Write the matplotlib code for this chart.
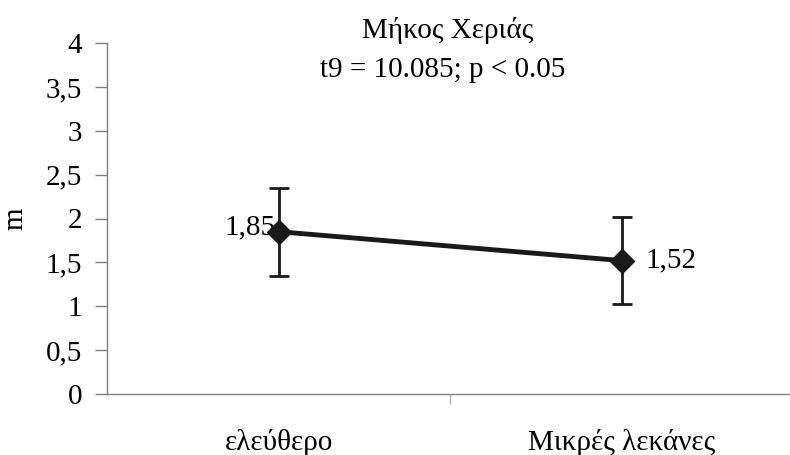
import matplotlib.pyplot as plt

plt.rcParams['font.family'] = ['Liberation Serif', 'DejaVu Serif']

# data
categories = ['ελεύθερο', 'Μικρές λεκάνες']
means = [1.85, 1.52]
errors = [0.5, 0.5]
mean_labels = ['1,85', '1,52']
yticks = [0, 0.5, 1, 1.5, 2, 2.5, 3, 3.5, 4]
ytick_labels = ['0', '0,5', '1', '1,5', '2', '2,5', '3', '3,5', '4']

fig = plt.figure(figsize=(7.9, 4.55), dpi=100)
ax = fig.add_axes([107 / 790, 61 / 455, 683 / 790, 351 / 455])

x = list(range(len(categories)))
ax.errorbar(x, means, yerr=errors, color='#1a1a1a', lw=3.5, marker='D', ms=12,
            ecolor='#1a1a1a', elinewidth=2, capsize=7, capthick=2, zorder=3)

ax.set_xlim(-0.5, 1.49)
ax.set_ylim(0, 4)
ax.set_yticks(yticks)
ax.set_yticklabels(ytick_labels, fontsize=21)
ax.set_xticks(x)
ax.set_xticklabels(categories, fontsize=21)
ax.set_xticks([0.5], minor=True)

for s in ['top', 'right']:
    ax.spines[s].set_visible(False)
for s in ['left', 'bottom']:
    ax.spines[s].set_color('#808080')
    ax.spines[s].set_linewidth(1)
ax.tick_params(axis='y', length=9, width=1, color='#808080', pad=9)
ax.tick_params(axis='x', which='major', length=0, pad=25)
ax.tick_params(axis='x', which='minor', length=7, width=1, color='#b0b0b0')

# value labels beside the markers
ax.text(x[0] - 0.01, means[0] + 0.05, mean_labels[0], fontsize=21, ha='right', va='center')
ax.text(x[1] + 0.07, means[1], mean_labels[1], fontsize=21, ha='left', va='center')

ax.set_ylabel('m', fontsize=21, labelpad=12)

fig.text(448 / 790, 1 - 30 / 455, 'Μήκος Χεριάς', fontsize=21, ha='center', va='center')
fig.text(443 / 790, 1 - 70 / 455, 't9 = 10.085; p < 0.05', fontsize=21, ha='center', va='center')

fig.savefig('out.png', dpi=100)
